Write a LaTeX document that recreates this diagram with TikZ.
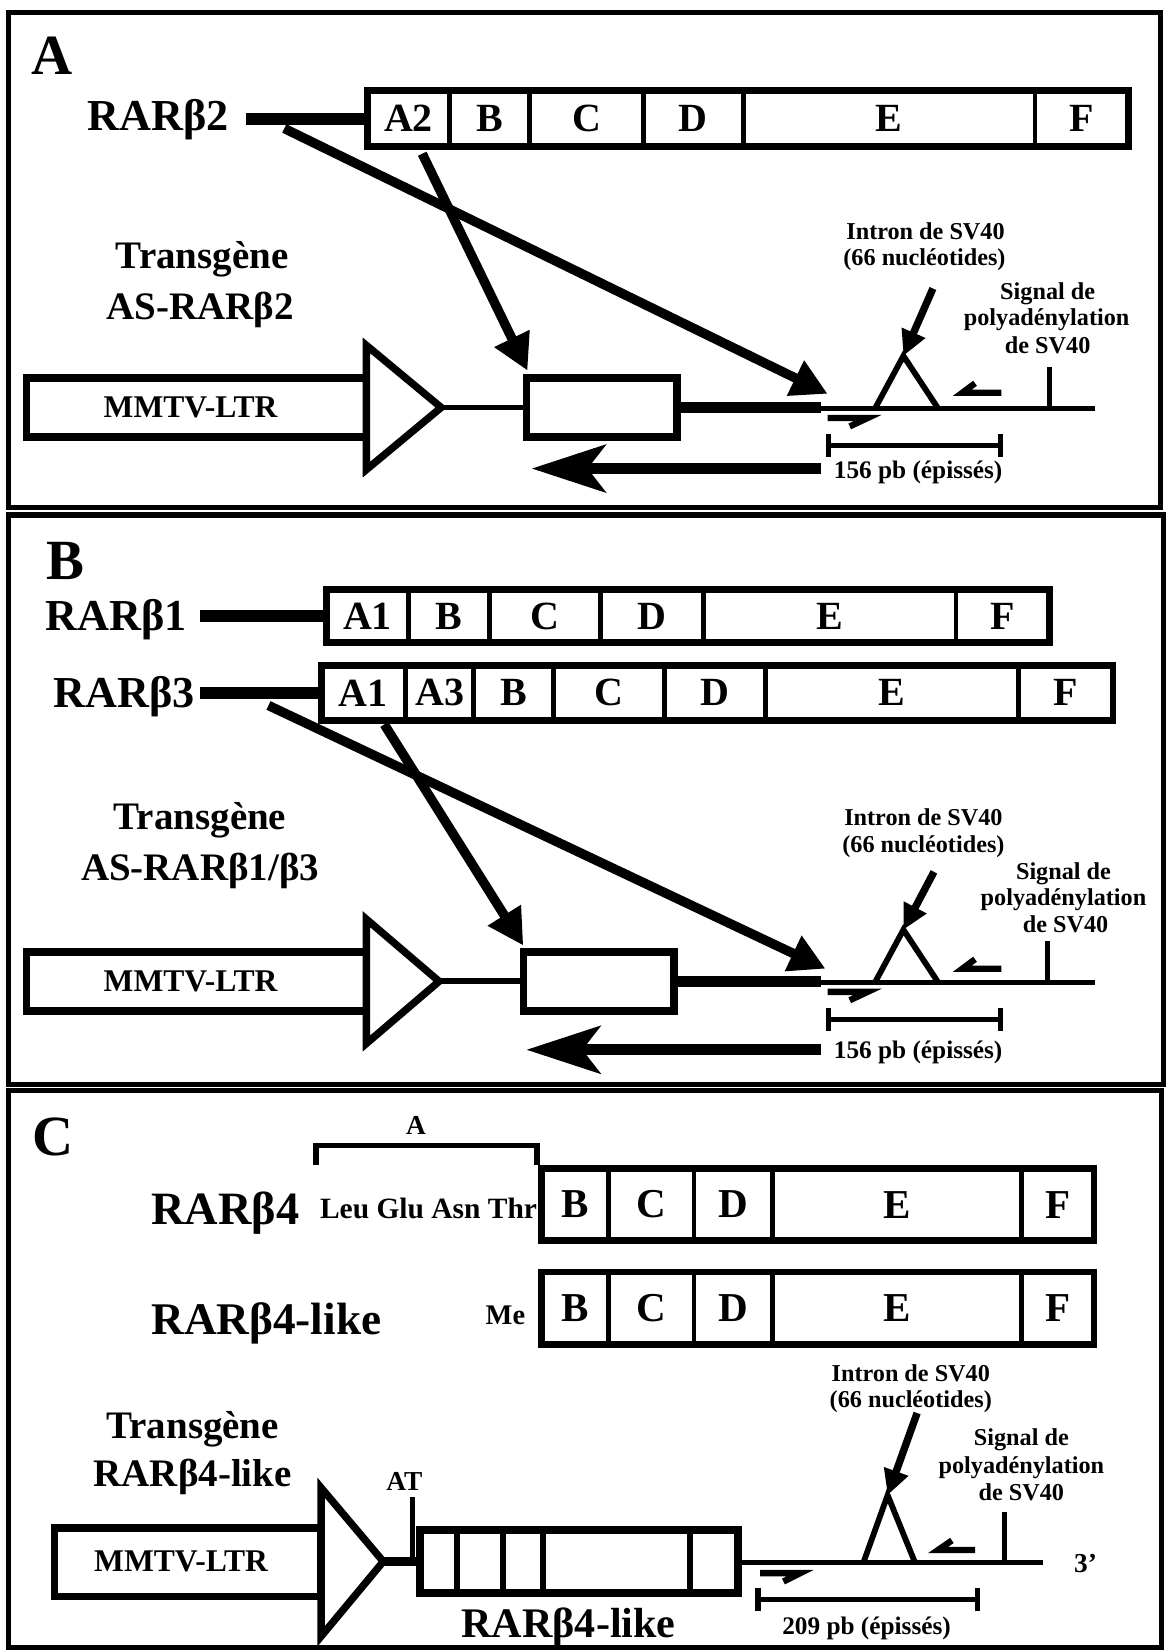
\documentclass[tikz,border=0pt]{standalone}
\usepackage{fontspec}
\setmainfont{Liberation Serif}
\usetikzlibrary{arrows.meta}
\tikzset{
  txt/.style={inner sep=0pt, font=\bfseries\fontsize{#1pt}{#1pt}\selectfont},
  cell/.style={draw, line width=4.5pt, inner sep=0pt},
  frm/.style={line width=5pt},
  dnathin/.style={line width=5.5pt},
  dnathick/.style={line width=11pt},
  boxln/.style={draw, line width=7pt, fill=white},
  prom/.style={line width=7pt, fill=white, line join=miter},
  diag/.style={line width=9pt, -{Triangle[length=34pt,width=35pt]}},
  intarr/.style={line width=7pt, -{Triangle[length=24pt,width=23pt]}},
  bigleft/.style={line width=10.5pt, -{Stealth[length=70pt,width=45pt,inset=17pt]}},
  primer/.style={line width=6pt},
  bar/.style={line width=5pt},
}
\newcommand\dombar[7]{%
  \foreach \xa/\xb/\lab [count=\i] in {#7}{
    \node[cell, font=\bfseries\fontsize{#6pt}{#6pt}\selectfont,
      minimum width={\xb-\xa}, minimum height={#3-#2}]
      (#1\i) at ({(\xa+\xb)/2},{(#2+#3)/2}) {\lab};
  }
  \draw[line width=6.5pt] (#4,#2) rectangle (#5,#3);
}
\begin{document}
\begin{tikzpicture}[x=1pt,y=-1pt]
\useasboundingbox[fill=white] (0,0) rectangle (1110,1568);

% ---------------- frames
\draw[frm] (8,12) rectangle (1102,482);
\draw[frm] (8,489) rectangle (1105,1030);
\draw[frm] (8,1036) rectangle (1103,1565);

% ================= PANEL A
\node[txt=54, anchor=base] (labA) at (49,71) {A};
\node[txt=42, anchor=base] (rarb2) at (150,124) {RARβ2};
\coordinate (lA0) at (234,113);
\coordinate (lA1) at (350,113);
\draw[line width=11pt] (lA0) -- (lA1);
\dombar{dA}{86}{139}{349}{1072}{38}{349/427/A2,427/503/B,503/611/C,611/706/D,706/983/E,983/1072/F}

\node[txt=37, anchor=base] (trA1) at (192,255) {Transgène};
\node[txt=37, anchor=base] (trA2) at (190,303) {AS-RARβ2};

% construct
\coordinate (tipA) at (419,387);
\draw[dnathin] (tipA) -- (500,387);
\draw[dnathick] (643,387) -- (780,387);
\draw[dnathin] (780,388) -- (1040,388);
\node[boxln, minimum width=323, minimum height=56] (mmA) at (186.5,387) {};
\node[txt=30] (mmtA) at (181,387) {MMTV-LTR};
\draw[prom] (348,328) -- (348,446) -- (tipA) -- cycle;
\node[boxln, minimum width=143, minimum height=56] (gA) at (571.5,387) {};
% intron
\coordinate (apA) at (858,338);
\draw[line width=5.5pt, line join=miter] (831,388) -- (apA) -- (891,388);
% polyA
\draw[bar] (997,349) -- (997,388);
% primers
\draw[primer] (951,373) -- (914,373) -- (926,364);
\draw[primer] (786,397) -- (824,397) -- (807,405);
% scale
\draw[bar] (787,423) -- (950,423);
\draw[bar] (787,412) -- (787,434);
\draw[bar] (950,412) -- (950,434);
\node[txt=24, anchor=base] (bpA) at (872,454) {156 pb (épissés)};
\draw[bigleft] (780,445) -- (505,445);
% labels
\node[txt=23, anchor=base] (inA1) at (879,227) {Intron de SV40};
\node[txt=23, anchor=base] (inA2) at (878,252) {(66 nucléotides)};
\node[txt=23, anchor=base] (pA1) at (995,284) {Signal de};
\node[txt=23, anchor=base] (pA2) at (994,309) {polyadénylation};
\node[txt=23, anchor=base] (pA3) at (995,336) {de SV40};
% arrows
\coordinate (dA0) at (270,122);
\coordinate (dA1) at (786,374);
\draw[diag] (dA0) -- (dA1);
\coordinate (aA0) at (401,146);
\coordinate (aA1) at (501,352);
\draw[diag] (aA0) -- (aA1);
\coordinate (iA0) at (886,274);
\draw[intarr] (iA0) -- (apA);

% ================= PANEL B
\node[txt=54, anchor=base] (labB) at (62,550) {B};
\node[txt=42, anchor=base] (rarb1) at (110,599) {RARβ1};
\draw[line width=11pt] (190,585) -- (310,585);
\dombar{dB}{560}{610}{310}{997}{38}{310/388/A1,388/465/B,465/570/C,570/668/D,668/908/E,908/997/F}
\node[txt=42, anchor=base] (rarb3) at (118,672) {RARβ3};
\draw[line width=11pt] (190,658) -- (305,658);
\dombar{dC}{632}{684}{305}{1057}{38}{305/385/A1,385/450/A3,450/526/B,526/631/C,631/727/D,727/967/E,967/1057/F}

\node[txt=37, anchor=base] (trB1) at (190,788) {Transgène};
\node[txt=37, anchor=base] (trB2) at (190,836) {AS-RARβ1/β3};

\coordinate (tipB) at (417,932);
\draw[dnathin] (tipB) -- (497,932);
\draw[dnathick] (640,932) -- (780,932);
\draw[dnathin] (780,933) -- (1040,933);
\node[boxln, minimum width=323, minimum height=56] (mmB) at (186.5,932) {};
\node[txt=30] (mmtB) at (181,932) {MMTV-LTR};
\draw[prom] (348,873) -- (348,991) -- (tipB) -- cycle;
\node[boxln, minimum width=143, minimum height=56] (gB) at (568.5,932) {};
\coordinate (apB) at (858,883);
\draw[line width=5.5pt, line join=miter] (831,933) -- (apB) -- (891,933);
\draw[bar] (995,894) -- (995,933);
\draw[primer] (951,920) -- (914,920) -- (926,911);
\draw[primer] (786,942) -- (824,942) -- (807,950);
\draw[bar] (787,968) -- (950,968);
\draw[bar] (787,957) -- (787,979);
\draw[bar] (950,957) -- (950,979);
\node[txt=24, anchor=base] (bpB) at (872,1005) {156 pb (épissés)};
\draw[bigleft] (780,997) -- (500,997);
\node[txt=23, anchor=base] (inB1) at (877,784) {Intron de SV40};
\node[txt=23, anchor=base] (inB2) at (877,810) {(66 nucléotides)};
\node[txt=23, anchor=base] (pB1) at (1010,835) {Signal de};
\node[txt=23, anchor=base] (pB2) at (1010,860) {polyadénylation};
\node[txt=23, anchor=base] (pB3) at (1012,886) {de SV40};
\coordinate (dB0) at (255,670);
\coordinate (dB1) at (784,920);
\draw[diag] (dB0) -- (dB1);
\coordinate (aB0) at (365,688);
\coordinate (aB1) at (497,898);
\draw[diag] (aB0) -- (aB1);
\coordinate (iB0) at (887,828);
\draw[intarr] (iB0) -- (apB);

% ================= PANEL C
\node[txt=54, anchor=base] (labC) at (50,1097) {C};
\draw[line width=5pt] (300,1106) -- (300,1088) -- (510,1088) -- (510,1106);
\node[txt=26, anchor=base] (brA) at (395,1077) {A};
\node[txt=44, anchor=base] (rarb4) at (214,1163) {RARβ4};
\node[txt=28, anchor=base] (leu) at (407,1157) {Leu Glu Asn Thr};
\dombar{dD}{1110}{1178}{514}{1039}{39}{514/578/B,578/659/C,659/734/D,734/970/E,970/1039/F}
\node[txt=43, anchor=base] (rarb4l) at (253,1267) {RARβ4-like};
\node[txt=27, anchor=base] (me) at (480,1258) {Me};
\dombar{dE}{1208}{1277}{514}{1039}{39}{514/578/B,578/659/C,659/734/D,734/970/E,970/1039/F}

\node[txt=37, anchor=base] (trC1) at (183,1366) {Transgène};
\node[txt=37, anchor=base] (trC2) at (183,1412) {RARβ4-like};
\node[txt=26, anchor=base] (at) at (384,1416) {AT};

\coordinate (tipC) at (364,1483);
\draw[line width=9pt] (tipC) -- (402,1483);
\draw[line width=5pt] (392,1422) -- (392,1483);
\draw[dnathin] (701,1484) -- (991,1484);
\node[boxln, minimum width=253, minimum height=65] (mmC) at (178.5,1483.5) {};
\node[txt=30] (mmtC) at (172,1483) {MMTV-LTR};
\draw[prom] (305,1413) -- (305,1554) -- (tipC) -- cycle;
\node[boxln, minimum width=302, minimum height=60] (gC) at (550,1483) {};
\foreach \xx in {434,478,516,655} \draw[line width=5.5pt] (\xx,1453) -- (\xx,1513);
\node[txt=40, anchor=base] (rarb4l2) at (540,1555) {RARβ4-like};
\coordinate (apC) at (843,1420);
\draw[line width=5.5pt, line join=miter] (820,1484) -- (apC) -- (869,1484);
\draw[bar] (954,1436) -- (954,1484);
\draw[primer] (926,1472) -- (891,1472) -- (904,1463);
\draw[primer] (722,1494) -- (760,1494) -- (744,1502);
\draw[bar] (720,1519) -- (928,1519);
\draw[bar] (720,1508) -- (720,1530);
\draw[bar] (928,1508) -- (928,1530);
\node[txt=24, anchor=base] (bpC) at (823,1552) {209 pb (épissés)};
\node[txt=26, anchor=base] (three) at (1031,1493) {3’};
\node[txt=23, anchor=base] (inC1) at (865,1312) {Intron de SV40};
\node[txt=23, anchor=base] (inC2) at (865,1337) {(66 nucléotides)};
\node[txt=23, anchor=base] (pC1) at (970,1373) {Signal de};
\node[txt=23, anchor=base] (pC2) at (970,1399) {polyadénylation};
\node[txt=23, anchor=base] (pC3) at (970,1425) {de SV40};
\coordinate (iC0) at (871,1342);
\draw[intarr] (iC0) -- (apC);
\end{tikzpicture}
\end{document}
